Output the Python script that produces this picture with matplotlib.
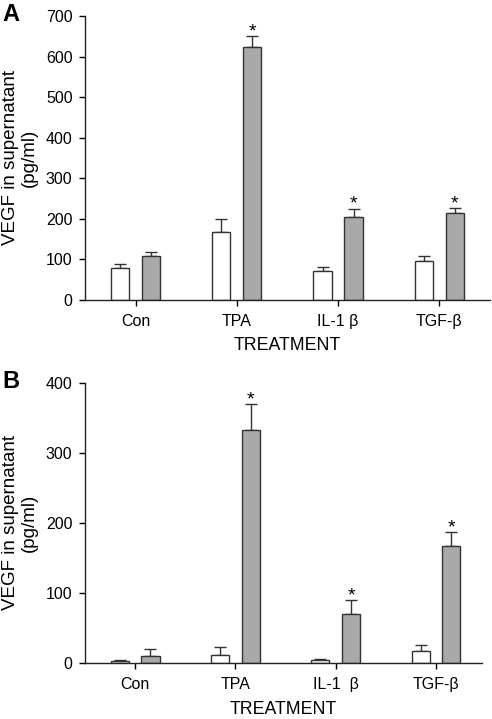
import numpy as np
import matplotlib
matplotlib.use('Agg')
import matplotlib.pyplot as plt

plt.rcParams['font.family'] = ['Liberation Sans', 'DejaVu Sans']

treatments = ['Con', 'TPA', 'IL-1 β', 'TGF-β']
treatments_b = ['Con', 'TPA', 'IL-1  β', 'TGF-β']

# panel A
a_white = [80, 167, 72, 97]
a_white_err = [8, 32, 10, 11]
a_gray = [108, 623, 205, 214]
a_gray_err = [10, 28, 20, 12]
a_star = [False, True, True, True]

# panel B
b_white = [2, 11, 4, 17]
b_white_err = [2, 11, 2, 8]
b_gray = [10, 332, 70, 167]
b_gray_err = [9, 37, 19, 20]
b_star = [False, True, True, True]


def draw_panel(ax, labels, white, white_err, gray, gray_err, star, ymax, ystep, xmax, xlabelpad):
    x = np.arange(len(labels))
    w = 0.18
    off = 0.153
    ax.bar(x - off, white, w, color='white', edgecolor='#333333', linewidth=1.0, zorder=2)
    ax.bar(x + off, gray, w, color='#a9a9a9', edgecolor='#333333', linewidth=1.0, zorder=2)
    ax.errorbar(x - off, white, yerr=[np.zeros(len(x)), white_err], fmt='none',
                ecolor='#333333', elinewidth=1.0, capsize=4, capthick=1.0, zorder=1)
    ax.errorbar(x + off, gray, yerr=[np.zeros(len(x)), gray_err], fmt='none',
                ecolor='#333333', elinewidth=1.0, capsize=4, capthick=1.0, zorder=1)
    for i in range(len(x)):
        if star[i]:
            ax.annotate('*', (x[i] + off, gray[i] + gray_err[i]), xytext=(0, -3),
                        textcoords='offset points', ha='center', va='bottom', fontsize=14)
    ax.set_xlim(-0.5, xmax)
    ax.set_ylim(0, ymax)
    ax.set_yticks(np.arange(0, ymax + 1, ystep))
    ax.set_xticks(x)
    ax.set_xticklabels(labels, fontsize=11.5)
    ax.tick_params(axis='y', labelsize=11.5, length=4, width=1, pad=5)
    ax.tick_params(axis='x', length=4, width=1, pad=6)
    ax.spines['top'].set_visible(False)
    ax.spines['right'].set_visible(False)
    for s in ['left', 'bottom']:
        ax.spines[s].set_linewidth(1.0)
        ax.spines[s].set_color('#222222')
    ax.set_xlabel('TREATMENT', fontsize=12.8, labelpad=xlabelpad)
    ax.set_ylabel('VEGF in supernatant\n(pg/ml)', fontsize=13.5, labelpad=6, linespacing=1.1)


fig = plt.figure(figsize=(4.92, 7.19), dpi=100)
ax1 = fig.add_axes([0.1728, 0.5828, 0.823, 0.395])
ax2 = fig.add_axes([0.1728, 0.0783, 0.807, 0.3894])

draw_panel(ax1, treatments, a_white, a_white_err, a_gray, a_gray_err, a_star, 700, 100, 3.5, 6)
draw_panel(ax2, treatments_b, b_white, b_white_err, b_gray, b_gray_err, b_star, 400, 100, 3.46, 6.5)

fig.text(0.004, 0.996, 'A', fontsize=17, fontweight='bold', va='top', ha='left')
fig.text(0.004, 0.486, 'B', fontsize=17, fontweight='bold', va='top', ha='left')

fig.savefig('out.png', dpi=100)
